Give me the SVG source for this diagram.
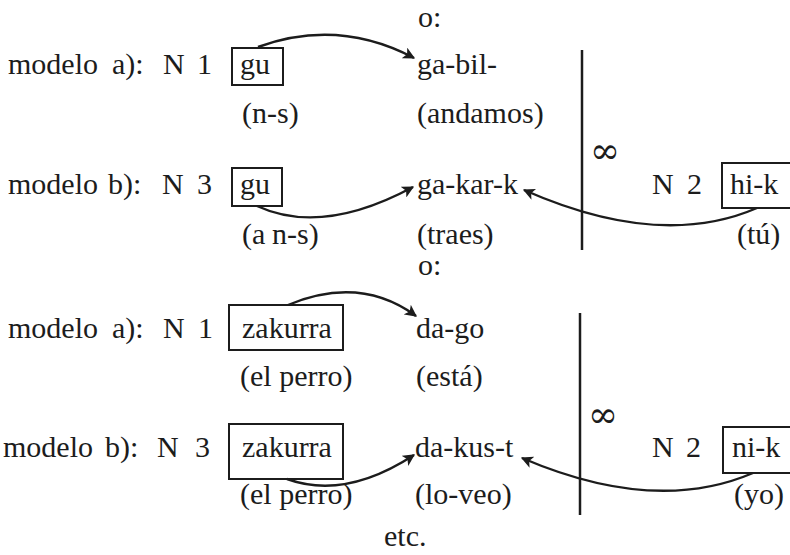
<svg xmlns="http://www.w3.org/2000/svg" width="790" height="555" viewBox="0 0 790 555">
<style>
text{font-family:'Liberation Serif','DejaVu Serif',serif;font-size:30px;fill:#1c1c1c}
.box{fill:none;stroke:#1c1c1c;stroke-width:2}
.bar{stroke:#1c1c1c;stroke-width:2.5}
.arc{fill:none;stroke:#1c1c1c;stroke-width:2.4;marker-end:url(#ah)}
text.inf{font-family:'DejaVu Serif',serif;font-size:36px}
</style>
<defs>
<marker id="ah" viewBox="0 0 10 10" refX="9" refY="5" markerWidth="5" markerHeight="5" orient="auto" markerUnits="strokeWidth">
<path d="M0,0 L10,5 L0,10 L2.5,5 Z" fill="#1c1c1c"/>
</marker>
</defs>
<rect width="790" height="555" fill="#ffffff"/>

<g id="or1"><text x="418" y="27">o:</text></g>

<g id="row1-label"><text y="74"><tspan x="8">modelo</tspan><tspan x="112">a):</tspan><tspan x="163">N</tspan><tspan x="197">1</tspan></text></g>
<g id="row1-gu"><rect class="box" x="232" y="48" width="51" height="37"/><text x="240" y="74">gu</text><text x="242" y="123">(n-s)</text></g>
<g id="row1-verb"><text x="417" y="74">ga-bil-</text><text x="417" y="123">(andamos)</text></g>

<g id="row2-label"><text y="194"><tspan x="8">modelo</tspan><tspan x="108">b):</tspan><tspan x="162">N</tspan><tspan x="197">3</tspan></text></g>
<g id="row2-gu"><rect class="box" x="232" y="168" width="50" height="38"/><text x="240" y="194">gu</text><text y="244"><tspan x="242">(a</tspan><tspan x="272">n-s)</tspan></text></g>
<g id="row2-verb"><text x="417" y="194">ga-kar-k</text><text x="417" y="244">(traes)</text></g>
<g id="row2-n2"><text y="194"><tspan x="652">N</tspan><tspan x="687">2</tspan></text><rect class="box" x="722" y="163" width="80" height="45"/><text x="730" y="194">hi-k</text><text x="737" y="244">(tú)</text></g>
<g id="sep1"><line class="bar" x1="582" y1="50" x2="582" y2="250"/><text class="inf" x="590" y="163">∞</text></g>

<g id="or2"><text x="418" y="275">o:</text></g>

<g id="row3-label"><text y="338"><tspan x="8">modelo</tspan><tspan x="112">a):</tspan><tspan x="163">N</tspan><tspan x="198">1</tspan></text></g>
<g id="row3-zak"><rect class="box" x="229" y="305" width="114" height="45"/><text x="242" y="338">zakurra</text><text x="240" y="386">(el perro)</text></g>
<g id="row3-verb"><text x="416" y="338">da-go</text><text x="416" y="386">(está)</text></g>

<g id="row4-label"><text y="457"><tspan x="3">modelo</tspan><tspan x="105">b):</tspan><tspan x="157">N</tspan><tspan x="195">3</tspan></text></g>
<g id="row4-zak"><rect class="box" x="229" y="424" width="114" height="55"/><text x="242" y="457">zakurra</text><text x="240" y="504">(el perro)</text></g>
<g id="row4-verb"><text x="415" y="457">da-kus-t</text><text x="415" y="504">(lo-veo)</text></g>
<g id="row4-n2"><text y="457"><tspan x="652">N</tspan><tspan x="686">2</tspan></text><rect class="box" x="723" y="427" width="80" height="46"/><text x="732" y="457">ni-k</text><text x="734" y="504">(yo)</text></g>
<g id="sep2"><line class="bar" x1="580" y1="313" x2="580" y2="515"/><text class="inf" x="588" y="427">∞</text></g>

<g id="etc"><text x="384" y="546">etc.</text></g>

<g id="connectors">
<path class="arc" d="M258,47 Q338,18 414,58"/>
<path class="arc" d="M257,206 Q322,236 413,187"/>
<path class="arc" d="M757,208 Q660,250 524,190"/>
<path class="arc" d="M288,305 Q360,275 416,316"/>
<path class="arc" d="M287,479 Q345,500 414,455"/>
<path class="arc" d="M753,473 Q655,515 522,458"/>
</g>
</svg>
